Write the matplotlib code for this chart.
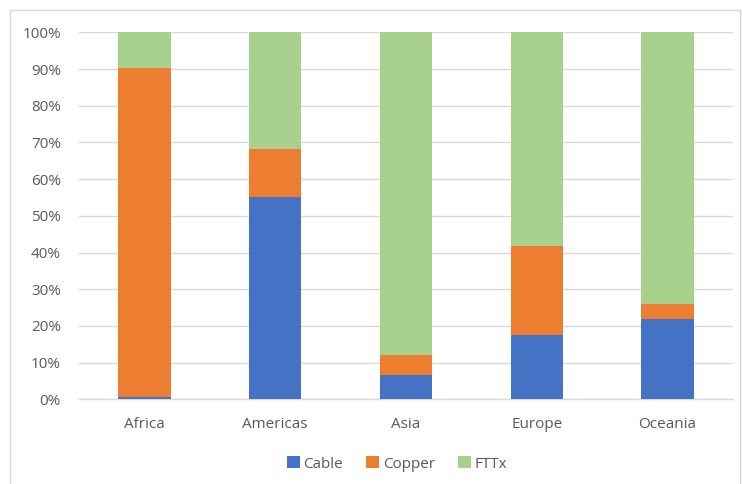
import numpy as np
import matplotlib
matplotlib.use('Agg')
import matplotlib.pyplot as plt
from matplotlib.patches import Rectangle
from matplotlib.ticker import PercentFormatter

plt.rcParams['font.family'] = ['Open Sans', 'DejaVu Sans']

regions = ['Africa', 'Americas', 'Asia', 'Europe', 'Oceania']
cable = [0.6, 55.1, 6.5, 17.6, 22.0]
copper = [89.6, 13.2, 5.6, 24.3, 4.0]
fttx = [100 - a - b for a, b in zip(cable, copper)]

colors = {'Cable': '#4472C4', 'Copper': '#ED7D31', 'FTTx': '#A9D18E'}
text_color = '#595959'

fig = plt.figure(figsize=(7.42, 4.84), dpi=100)
# outer chart frame
fig.patches.append(Rectangle((10 / 742, -0.01), 730 / 742, 1 - 10 / 484 + 0.01,
                             transform=fig.transFigure, fill=False,
                             edgecolor='#D9D9D9', linewidth=1.0))

ax = fig.add_axes([79 / 742, 1 - 399.3 / 484, (733 - 79) / 742, 367 / 484])

x = np.arange(len(regions))
w = 0.4
cable = np.array(cable)
copper = np.array(copper)
fttx = np.array(fttx)
ax.bar(x, cable, w, color=colors['Cable'], label='Cable', zorder=3)
ax.bar(x, copper, w, bottom=cable, color=colors['Copper'], label='Copper', zorder=3)
ax.bar(x, fttx, w, bottom=cable + copper, color=colors['FTTx'], label='FTTx', zorder=3)

ax.set_xlim(-0.5, len(regions) - 0.5)
ax.set_ylim(0, 100)
ax.set_yticks(np.arange(0, 101, 10))
ax.yaxis.set_major_formatter(PercentFormatter(decimals=0))
ax.set_xticks(x)
ax.set_xticklabels(regions)
ax.tick_params(axis='both', length=0, labelsize=11, colors=text_color)
ax.tick_params(axis='x', pad=13)
ax.tick_params(axis='y', pad=13)
ax.grid(axis='y', color='#D9D9D9', linewidth=1.0, zorder=0)
for s in ['top', 'right', 'left']:
    ax.spines[s].set_visible(False)
ax.spines['bottom'].set_color('#D9D9D9')
ax.spines['bottom'].set_linewidth(1.0)

leg = fig.legend(loc='center', bbox_to_anchor=(397 / 742, 1 - 464 / 484), ncol=3,
                 frameon=False, fontsize=11, handlelength=0.85, handleheight=0.85,
                 handletextpad=0.25, columnspacing=1.5)
for t in leg.get_texts():
    t.set_color(text_color)

fig.savefig('out.png', dpi=100)
